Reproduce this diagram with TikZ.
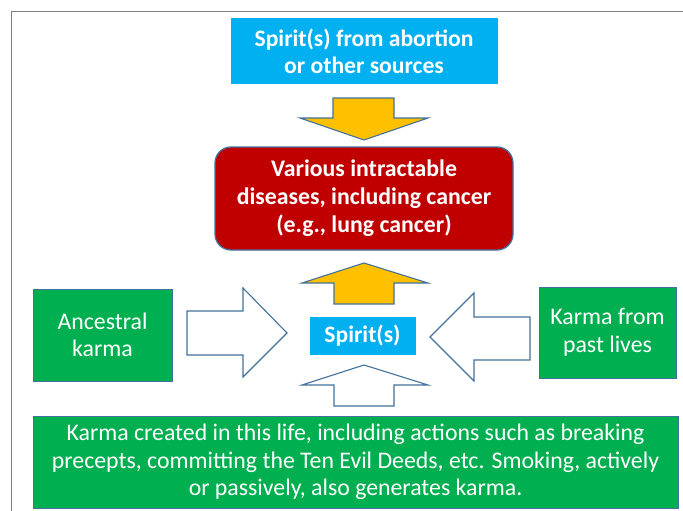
\documentclass[tikz,border=0pt]{standalone}
\usepackage{fontspec}
\setmainfont{Carlito}
\definecolor{cblue}{HTML}{00B0F0}
\definecolor{cred}{HTML}{C00000}
\definecolor{cgreen}{HTML}{00B050}
\definecolor{cyel}{HTML}{FFC000}
\definecolor{cline}{HTML}{41719C}
\definecolor{cframe}{HTML}{7F7F7F}
\begin{document}
\begin{tikzpicture}[x=1pt,y=-1pt,
  box/.style={draw=cline,line width=1pt,text=white,align=center,inner sep=0pt,font=\fontsize{23.8}{27.5}\selectfont},
  bluebox/.style={box,fill=cblue,draw=cblue,font=\bfseries\fontsize{23.6}{27}\selectfont},
  redbox/.style={box,fill=cred,line width=1.3pt,rounded corners=16pt,font=\bfseries\fontsize{23.8}{28}\selectfont},
  greenbox/.style={box,fill=cgreen},
  yarrow/.style={draw=cline,line width=1.1pt,fill=cyel,line join=miter},
  warrow/.style={draw=cline,line width=1.1pt,fill=white,line join=miter}]
\useasboundingbox (0,0) rectangle (683,511);
\draw[cframe,line width=1pt] (11,511) -- (11,12) -- (683,12);
\node[bluebox,minimum width=266pt,minimum height=65pt] (top) at (364,51.5) {Spirit(s) from abortion\\or other sources};
\node[redbox,minimum width=298pt,minimum height=103pt] (dis) at (364,198.5) {Various intractable\\diseases, including cancer\\(e.g., lung cancer)};
\node[bluebox,minimum width=105pt,minimum height=37pt] (sp) at (362.5,335.5) {Spirit(s)};
\node[greenbox,minimum width=139pt,minimum height=92pt] (anc) at (102.5,335) {Ancestral\\karma};
\node[greenbox,minimum width=137pt,minimum height=91pt] (past) at (607.5,332.5) {Karma from\\past lives};
\node[greenbox,minimum width=645pt,minimum height=92pt] (life) at (355.5,462) {Karma created in this life, including actions such as breaking\\precepts, committing the Ten Evil Deeds, etc. Smoking, actively\\or passively, also generates karma.};
\draw[yarrow] (333,98) -- (394,98) -- (394,118) -- (428,118) -- (364,140) -- (300,118) -- (333,118) -- cycle;
\draw[yarrow] (364,263) -- (428,283) -- (394,283) -- (394,304) -- (334,304) -- (334,283) -- (302,283) -- cycle;
\draw[warrow] (364,365) -- (428,385) -- (394,385) -- (394,406) -- (334,406) -- (334,385) -- (302,385) -- cycle;
\draw[warrow] (187,311) -- (243,311) -- (243,288) -- (287,333) -- (243,377) -- (243,355) -- (187,355) -- cycle;
\draw[warrow] (530,317) -- (474,317) -- (474,293) -- (430,337) -- (474,381) -- (474,360) -- (530,360) -- cycle;
\end{tikzpicture}
\end{document}
